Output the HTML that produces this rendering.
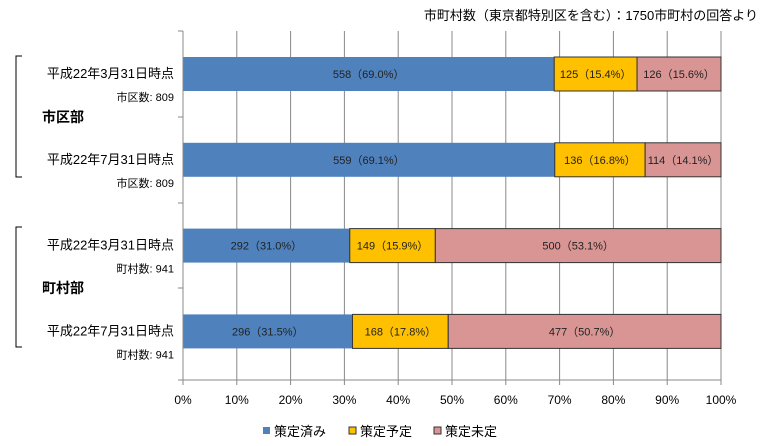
<!DOCTYPE html>
<html><head><meta charset="utf-8"><style>
body{margin:0;background:#fff;}
svg text{font-family:"Liberation Sans","Noto Sans CJK JP",sans-serif;}
</style></head><body>
<svg width="770" height="441" id="c">
<text x="758" y="20" font-size="13" text-anchor="end">市町村数（東京都特別区を含む）：1750市町村の回答より</text>
<g id="grid"></g><g id="bars"></g><g id="axis"></g><g id="labels"></g>
<path d="M22,56 H16 V177 H22" fill="none" stroke="#000"/>
<path d="M22,227 H16 V347 H22" fill="none" stroke="#000"/>
<text x="42" y="122" font-size="14" font-weight="bold">市区部</text>
<text x="42" y="293" font-size="14" font-weight="bold">町村部</text>
<g id="legend"></g>
</svg>
<script>
const categories=["平成22年3月31日時点","平成22年7月31日時点","平成22年3月31日時点","平成22年7月31日時点"];
const totals=["市区数: 809","市区数: 809","町村数: 941","町村数: 941"];
const done=[558,559,292,296];
const planned=[125,136,149,168];
const undecided=[126,114,500,477];
const donePct=[69.0,69.1,31.0,31.5];
const plannedPct=[15.4,16.8,15.9,17.8];
const undecidedPct=[15.6,14.1,53.1,50.7];
const ticks=[0,10,20,30,40,50,60,70,80,90,100];
const seriesNames=["策定済み","策定予定","策定未定"];
const colors=["#4f81bd","#ffc000","#d99594"];
const NS="http://www.w3.org/2000/svg";
const X0=183,X1=721,TOP=31,BOT=380;
const xs=p=>X0+(X1-X0)*p/100;
const yc=i=>74+i*85.8;
function mk(t,a,p){const e=document.createElementNS(NS,t);for(const k in a)e.setAttribute(k,a[k]);p.appendChild(e);return e;}
const g=document.getElementById('grid'),b=document.getElementById('bars'),ax=document.getElementById('axis'),lb=document.getElementById('labels'),lg=document.getElementById('legend');
ticks.forEach(t=>{
  const l=mk('line',{x1:xs(t),x2:xs(t),y1:TOP,y2:BOT+5,stroke:'#888'},g);
  
  
  const tx=mk('text',{x:xs(t),y:404,'font-size':12,'text-anchor':'middle'},ax);tx.textContent=t+'%';
  
  
});
mk('line',{x1:X0,x2:X1,y1:BOT,y2:BOT,stroke:'#888'},ax);
mk('line',{x1:X0,x2:X0,y1:TOP,y2:BOT,stroke:'#888'},ax);
[TOP,117,203,288,BOT].forEach(y=>mk('line',{x1:X0-5,x2:X0,y1:y,y2:y,stroke:'#888'},ax));
categories.forEach((c,i)=>{
  const y=yc(i);const h=34;
  const vals=[donePct[i],plannedPct[i],undecidedPct[i]];
  const cnt=[done[i],planned[i],undecided[i]];
  let acc=0;
  vals.forEach((v,k)=>{
    const x=xs(acc),w=xs(acc+v)-x;acc+=v;
    const r=mk('rect',{x:x,y:y-h/2,width:w,height:h,fill:colors[k],stroke:k===0?'none':'#333','stroke-width':k===0?0:1},b);
    
    
    const t=mk('text',{x:x+w/2,y:y+4,'font-size':11,'text-anchor':'middle',fill:'#222'},b);
    t.textContent=cnt[k]+'（'+v.toFixed(1)+'%）';
    
    
  });
  const ct=mk('text',{x:174,y:y+4,'font-size':13,'text-anchor':'end'},lb);ct.textContent=c;
  
  
  const tt=mk('text',{x:174,y:y+27,'font-size':11,'text-anchor':'end'},lb);tt.textContent=totals[i];
  
  
});
const lx=[263,349,434];
seriesNames.forEach((n,k)=>{
  const r=mk('rect',{x:lx[k],y:427,width:7,height:7,fill:colors[k],stroke:k?'#333':'none'},lg);
  
  
  const t=mk('text',{x:lx[k]+11,y:436,'font-size':13},lg);t.textContent=n;
  
  
});
</script>
</body></html>
